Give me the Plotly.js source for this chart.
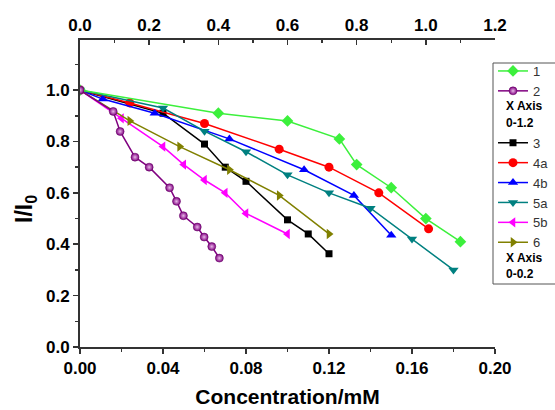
<!DOCTYPE html>
<html><head><meta charset="utf-8">
<script src="https://cdn.plot.ly/plotly-3.0.1.min.js"></script>
<style>html,body{margin:0;padding:0;background:#fff}</style>
</head><body><div id="chart" style="width:555px;height:410px"></div>
<script>
// Series 1 and 2: top axis (0-1.2)
const s1x=[0,0.40,0.60,0.75,0.80,0.90,1.00,1.10];
const s1y=[1.00,0.91,0.88,0.81,0.71,0.62,0.50,0.41];
const s2x=[0,0.096,0.116,0.159,0.200,0.259,0.279,0.299,0.339,0.359,0.381,0.403];
const s2y=[1.00,0.917,0.839,0.739,0.700,0.620,0.567,0.511,0.467,0.428,0.391,0.346];
// Series 3..6: bottom axis (0-0.2)
const s3x=[0,0.040,0.060,0.070,0.080,0.100,0.110,0.120];
const s3y=[1.00,0.91,0.79,0.70,0.645,0.495,0.44,0.363];
const s4ax=[0,0.024,0.060,0.096,0.120,0.144,0.168];
const s4ay=[1.00,0.95,0.87,0.77,0.70,0.60,0.46];
const s4bx=[0,0.011,0.036,0.072,0.108,0.132,0.150];
const s4by=[1.00,0.965,0.91,0.81,0.69,0.59,0.435];
const s5ax=[0,0.040,0.060,0.080,0.100,0.120,0.140,0.160,0.180];
const s5ay=[1.00,0.93,0.84,0.76,0.67,0.60,0.54,0.42,0.30];
const s5bx=[0,0.020,0.040,0.050,0.060,0.070,0.080,0.100];
const s5by=[1.00,0.89,0.78,0.71,0.65,0.60,0.52,0.44];
const s6x=[0,0.024,0.048,0.072,0.096,0.120];
const s6y=[1.00,0.88,0.78,0.69,0.59,0.44];

const names=['1','2','3','4a','4b','5a','5b','6'];
const colors=['#3cf03c','#800080','#000000','#ff0000','#0000ff','#008080','#ff00ff','#808000'];
const symbols=['diamond','circle','square','circle','triangle-up','triangle-down','triangle-left','triangle-right'];
const sizes=[9,8,7,9,9,9,9,9];
const xs=[s1x,s2x,s3x,s4ax,s4bx,s5ax,s5bx,s6x];
const ys=[s1y,s2y,s3y,s4ay,s4by,s5ay,s5by,s6y];

const traces=xs.map((x,i)=>{
  const t={
    x:x, y:ys[i], name:names[i], type:'scatter', mode:'lines+markers',
    xaxis: i<2 ? 'x2':'x', yaxis:'y',
    line:{color:colors[i],width:1.5},
    marker:{color:colors[i],symbol:symbols[i],size:sizes[i],line:{width:0}},
    legendgroup: i<2 ? 'a':'b'
  };
  if(i===1){ t.marker.gradient={type:'radial',color:'#e8b8e8'}; t.marker.line={width:0.5,color:'#600060'}; }
  return t;
});

const fontFam='Arial, "Liberation Sans", sans-serif';
const L=80, W=415, T=40, H=307;
const px=v=>(v-L)/W, py=v=>(T+H-v)/H;

const layout={
  width:555, height:410,
  margin:{l:L,r:555-L-W,t:T,b:410-T-H,autoexpand:false},
  paper_bgcolor:'#fff', plot_bgcolor:'#fff',
  showlegend:true,
  font:{family:fontFam,color:'#000'},
  xaxis:{range:[0,0.2],dtick:0.04,tick0:0,tickformat:'.2f',ticks:'outside',ticklen:5,tickwidth:1.5,tickcolor:'#333',
    showline:true,linecolor:'#333',linewidth:2,showgrid:false,zeroline:false,
    tickfont:{family:fontFam,size:17,weight:'bold',color:'#000'},
    minor:{dtick:0.02,ticks:'outside',ticklen:3,tickwidth:1.5,tickcolor:'#333',showgrid:false},
    title:{text:'Concentration/mM',font:{family:fontFam,size:21,weight:'bold',color:'#000'},standoff:12}},
  xaxis2:{range:[0,1.2],dtick:0.2,tick0:0,tickformat:'.1f',overlaying:'x',side:'top',anchor:'y',
    ticks:'inside',ticklen:5,tickwidth:1.5,tickcolor:'#333',
    showline:true,linecolor:'#333',linewidth:2,showgrid:false,zeroline:false,
    tickfont:{family:fontFam,size:17,weight:'bold',color:'#000'},
    minor:{dtick:0.1,ticks:'inside',ticklen:3,tickwidth:1.5,tickcolor:'#333',showgrid:false}},
  yaxis:{range:[0,1.195],dtick:0.2,tick0:0,tickformat:'.1f',ticks:'outside',ticklen:5,tickwidth:1.5,tickcolor:'#333',
    showline:true,linecolor:'#333',linewidth:2,showgrid:false,zeroline:false,
    tickfont:{family:fontFam,size:17,weight:'bold',color:'#000'},
    minor:{dtick:0.1,ticks:'outside',ticklen:3,tickwidth:1.5,tickcolor:'#333',showgrid:false}},
  legend:{x:px(493),xanchor:'left',y:py(56),yanchor:'top',bgcolor:'rgba(0,0,0,0)',borderwidth:0,
    tracegroupgap:32,font:{family:fontFam,size:13,color:'#333'}},
  shapes:[{type:'rect',xref:'paper',yref:'paper',x0:px(493),x1:px(600),y0:py(284),y1:py(63),
    line:{color:'#555',width:1},fillcolor:'rgba(0,0,0,0)'}],
  annotations:[
    {text:'I/I<sub>0</sub>',xref:'paper',yref:'paper',x:px(25),y:py(209),textangle:-90,showarrow:false,
      xanchor:'center',yanchor:'middle',font:{family:fontFam,size:23,weight:'bold',color:'#000'}},
    {text:'X Axis',xref:'paper',yref:'paper',x:px(504),y:py(106),xanchor:'left',yanchor:'middle',showarrow:false,
      font:{family:fontFam,size:12,weight:'bold',color:'#000'}},
    {text:'0-1.2',xref:'paper',yref:'paper',x:px(504),y:py(123),xanchor:'left',yanchor:'middle',showarrow:false,
      font:{family:fontFam,size:12,weight:'bold',color:'#000'}},
    {text:'X Axis',xref:'paper',yref:'paper',x:px(504),y:py(258),xanchor:'left',yanchor:'middle',showarrow:false,
      font:{family:fontFam,size:12,weight:'bold',color:'#000'}},
    {text:'0-0.2',xref:'paper',yref:'paper',x:px(504),y:py(274),xanchor:'left',yanchor:'middle',showarrow:false,
      font:{family:fontFam,size:12,weight:'bold',color:'#000'}}
  ]
};
Plotly.newPlot('chart',traces,layout,{displayModeBar:false,staticPlot:true});
</script></body></html>
